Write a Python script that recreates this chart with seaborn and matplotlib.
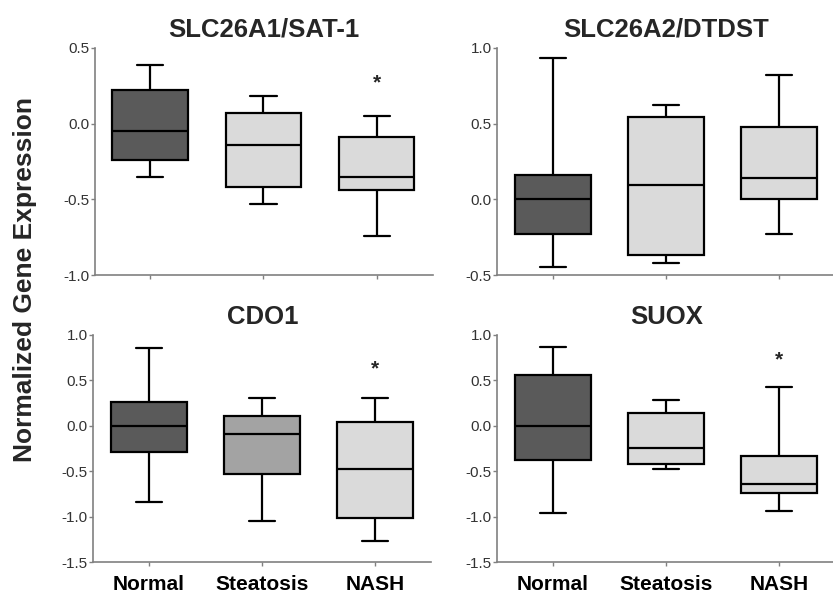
import numpy as np
import pandas as pd
import matplotlib
matplotlib.use("Agg")
import matplotlib.pyplot as plt
import seaborn as sns

sns.set_style("ticks")
plt.rcParams['font.family'] = ['Liberation Sans', 'DejaVu Sans']
plt.rcParams['axes.unicode_minus'] = False

groups = ["Normal", "Steatosis", "NASH"]

# 五数概括（最小, Q1, 中位数, Q3, 最大）
sat1_normal = [-0.35, -0.24, -0.05, 0.22, 0.39]
sat1_steatosis = [-0.53, -0.42, -0.14, 0.07, 0.18]
sat1_nash = [-0.74, -0.44, -0.35, -0.09, 0.05]

dtdst_normal = [-0.445, -0.23, 0.0, 0.16, 0.93]
dtdst_steatosis = [-0.42, -0.37, 0.095, 0.545, 0.625]
dtdst_nash = [-0.23, 0.005, 0.14, 0.475, 0.82]

cdo1_normal = [-0.84, -0.29, 0.0, 0.257, 0.853]
cdo1_steatosis = [-1.05, -0.526, -0.092, 0.107, 0.31]
cdo1_nash = [-1.27, -1.015, -0.48, 0.037, 0.31]

suox_normal = [-0.964, -0.377, 0.0, 0.56, 0.87]
suox_steatosis = [-0.48, -0.42, -0.243, 0.137, 0.282]
suox_nash = [-0.94, -0.74, -0.645, -0.333, 0.423]

titles = ["SLC26A1/SAT-1", "SLC26A2/DTDST", "CDO1", "SUOX"]
panel_data = [
    [sat1_normal, sat1_steatosis, sat1_nash],
    [dtdst_normal, dtdst_steatosis, dtdst_nash],
    [cdo1_normal, cdo1_steatosis, cdo1_nash],
    [suox_normal, suox_steatosis, suox_nash],
]
ylims = [(-1.0, 0.5), (-0.5, 1.0), (-1.5, 1.0), (-1.5, 1.0)]
# NASH 上方的星号（显著性），None 表示没有
star_y = [0.27, None, 0.63, 0.73]

dark = "#5a5a5a"
light = "#dadada"
mid = "#a3a3a3"
palettes = [
    {"Normal": dark, "Steatosis": light, "NASH": light},
    {"Normal": dark, "Steatosis": light, "NASH": light},
    {"Normal": dark, "Steatosis": mid, "NASH": light},
    {"Normal": dark, "Steatosis": light, "NASH": light},
]

fig = plt.figure(figsize=(8.33, 5.98), dpi=100)
positions = [
    [0.114, 0.540, 0.406, 0.380],
    [0.597, 0.540, 0.406, 0.380],
    [0.112, 0.060, 0.406, 0.380],
    [0.597, 0.060, 0.406, 0.380],
]

for i in range(4):
    ax = fig.add_axes(positions[i])
    rows = []
    for g, vals in zip(groups, panel_data[i]):
        for v in vals:
            rows.append({"group": g, "value": v})
    df = pd.DataFrame(rows)
    sns.boxplot(data=df, x="group", y="value", hue="group", order=groups,
                palette=palettes[i], legend=False, whis=(0, 100), width=0.67,
                linewidth=1.6, linecolor="black", capwidths=0.23, ax=ax)
    lo, hi = ylims[i]
    ax.set_ylim(lo, hi)
    ax.set_xlim(-0.49, 2.5)
    ax.set_yticks(np.arange(lo, hi + 0.01, 0.5))
    ax.set_yticklabels(["%.1f" % t for t in np.arange(lo, hi + 0.01, 0.5)])
    ax.set_xlabel("")
    ax.set_ylabel("")
    ax.set_title(titles[i], fontsize=18.5, fontweight="bold", pad=8)
    for s in ["top", "right"]:
        ax.spines[s].set_visible(False)
    for s in ["left", "bottom"]:
        ax.spines[s].set_color("#808080")
        ax.spines[s].set_linewidth(1.2)
    ax.tick_params(axis="both", colors="#808080", length=3, width=1)
    ax.tick_params(axis="y", labelsize=11, labelcolor="#333333", pad=1)
    if i < 2:
        ax.set_xticklabels([])
    else:
        ax.tick_params(axis="x", labelsize=15, labelcolor="black", pad=6)
        for lab in ax.get_xticklabels():
            lab.set_fontweight("bold")
    if star_y[i] is not None:
        ax.text(2, star_y[i], "*", ha="center", va="center",
                fontsize=15, fontweight="bold")

fig.text(0.03, 0.532, "Normalized Gene Expression", rotation=90,
         ha="center", va="center", fontsize=19, fontweight="bold")

fig.savefig("out.png", dpi=100)
